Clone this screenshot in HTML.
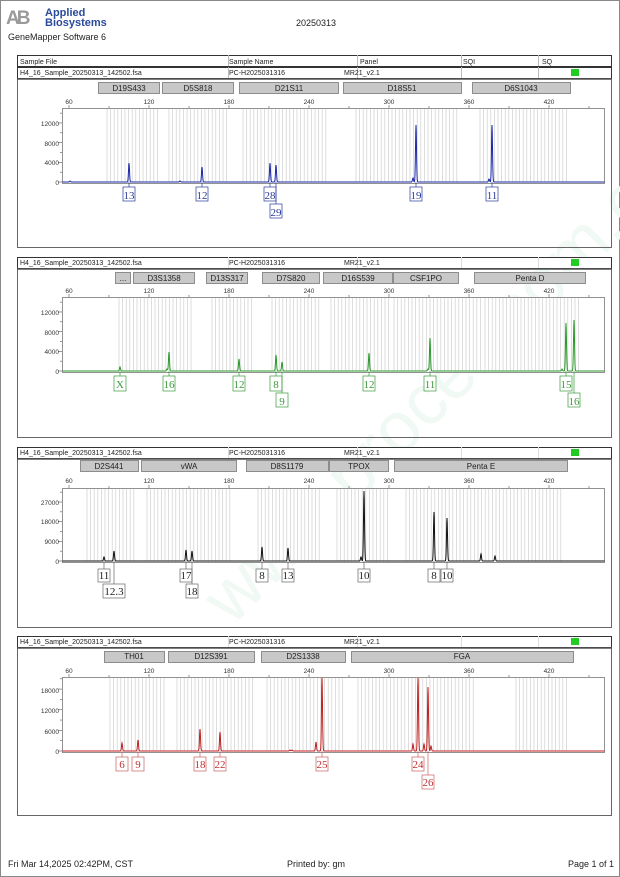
<!DOCTYPE html>
<html><head><meta charset="utf-8"><style>
html,body{margin:0;padding:0;background:#fff}
svg{display:block}
text{font-family:"Liberation Sans",sans-serif}
.h{font-size:7px;fill:#222}
.m{font-size:8px;fill:#222;text-anchor:middle}
.ax{font-size:6.5px;fill:#333;text-anchor:middle}
.ay{font-size:6.5px;fill:#333;text-anchor:end}
.lb text{font-family:"Liberation Serif",serif;font-size:11px;text-anchor:middle}
</style></head><body>
<svg id="s" width="620" height="877" viewBox="0 0 620 877" xmlns="http://www.w3.org/2000/svg">
<rect x="0.5" y="0.5" width="619" height="876" fill="#fff" stroke="#888"/>
<text x="130" y="520" transform="rotate(-45 310 450)" style="font-size:72px;fill:#f0f9f3;font-family:'Liberation Sans',sans-serif">www.procell.com.cn</text>
<!-- logo -->
<text x="6" y="24" style="font-size:19px;font-weight:bold;fill:#9a9a9a;letter-spacing:-3px">AB</text>
<text x="45" y="16" style="font-size:11px;font-weight:bold;fill:#2a4a9a">Applied</text>
<text x="45" y="26" style="font-size:11px;font-weight:bold;fill:#2a4a9a">Biosystems</text>
<text x="8" y="40" style="font-size:9px;fill:#222">GeneMapper Software 6</text>
<text x="316" y="26" style="font-size:9px;fill:#222;text-anchor:middle">20250313</text>
<g id="g"></g>
<text class="h" x="20" y="64">Sample File</text><text class="h" x="229" y="64">Sample Name</text><text class="h" x="360" y="64">Panel</text><text class="h" x="463" y="64">SQI</text><text class="h" x="542" y="64">SQ</text>
<text class="h" x="20" y="75">H4_16_Sample_20250313_142502.fsa</text><text class="h" x="229" y="75">PC-H2025031316</text><text class="h" x="344" y="75">MR21_v2.1</text>
<text class="h" x="20" y="265">H4_16_Sample_20250313_142502.fsa</text><text class="h" x="229" y="265">PC-H2025031316</text><text class="h" x="344" y="265">MR21_v2.1</text>
<text class="h" x="20" y="455">H4_16_Sample_20250313_142502.fsa</text><text class="h" x="229" y="455">PC-H2025031316</text><text class="h" x="344" y="455">MR21_v2.1</text>
<text class="h" x="20" y="644">H4_16_Sample_20250313_142502.fsa</text><text class="h" x="229" y="644">PC-H2025031316</text><text class="h" x="344" y="644">MR21_v2.1</text>
<text class="m" x="129" y="91">D19S433</text><text class="m" x="198" y="91">D5S818</text><text class="m" x="289" y="91">D21S11</text><text class="m" x="402" y="91">D18S51</text><text class="m" x="521" y="91">D6S1043</text>
<text class="m" x="123" y="281">...</text><text class="m" x="164" y="281">D3S1358</text><text class="m" x="227" y="281">D13S317</text><text class="m" x="291" y="281">D7S820</text><text class="m" x="358" y="281">D16S539</text><text class="m" x="426" y="281">CSF1PO</text><text class="m" x="530" y="281">Penta D</text>
<text class="m" x="109" y="469">D2S441</text><text class="m" x="189" y="469">vWA</text><text class="m" x="287" y="469">D8S1179</text><text class="m" x="359" y="469">TPOX</text><text class="m" x="481" y="469">Penta E</text>
<text class="m" x="134" y="659">TH01</text><text class="m" x="211" y="659">D12S391</text><text class="m" x="303" y="659">D2S1338</text><text class="m" x="462" y="659">FGA</text>
<g class="ax">
<text x="69" y="104">60</text><text x="149" y="104">120</text><text x="229" y="104">180</text><text x="309" y="104">240</text><text x="389" y="104">300</text><text x="469" y="104">360</text><text x="549" y="104">420</text>
<text x="69" y="293">60</text><text x="149" y="293">120</text><text x="229" y="293">180</text><text x="309" y="293">240</text><text x="389" y="293">300</text><text x="469" y="293">360</text><text x="549" y="293">420</text>
<text x="69" y="483">60</text><text x="149" y="483">120</text><text x="229" y="483">180</text><text x="309" y="483">240</text><text x="389" y="483">300</text><text x="469" y="483">360</text><text x="549" y="483">420</text>
<text x="69" y="673">60</text><text x="149" y="673">120</text><text x="229" y="673">180</text><text x="309" y="673">240</text><text x="389" y="673">300</text><text x="469" y="673">360</text><text x="549" y="673">420</text>
</g>
<g class="ay">
<text x="59" y="126">12000</text><text x="59" y="146">8000</text><text x="59" y="165">4000</text><text x="59" y="185">0</text>
<text x="59" y="315">12000</text><text x="59" y="335">8000</text><text x="59" y="354">4000</text><text x="59" y="374">0</text>
<text x="59" y="505">27000</text><text x="59" y="524">18000</text><text x="59" y="544">9000</text><text x="59" y="564">0</text>
<text x="59" y="693">18000</text><text x="59" y="713">12000</text><text x="59" y="734">6000</text><text x="59" y="754">0</text>
</g>
<g class="lb" fill="#2a3a9a"><text x="129" y="199">13</text><text x="202" y="199">12</text><text x="270" y="199">28</text><text x="276" y="216">29</text><text x="416" y="199">19</text><text x="492" y="199">11</text></g>
<g class="lb" fill="#3a9a3a"><text x="120" y="388">X</text><text x="169" y="388">16</text><text x="239" y="388">12</text><text x="276" y="388">8</text><text x="282" y="405">9</text><text x="369" y="388">12</text><text x="430" y="388">11</text><text x="566" y="388">15</text><text x="574" y="405">16</text></g>
<g class="lb" fill="#222"><text x="104" y="579">11</text><text x="114" y="595">12.3</text><text x="186" y="579">17</text><text x="192" y="595">18</text><text x="262" y="579">8</text><text x="288" y="579">13</text><text x="364" y="579">10</text><text x="434" y="579">8</text><text x="447" y="579">10</text></g>
<g class="lb" fill="#c03030"><text x="122" y="768">6</text><text x="138" y="768">9</text><text x="200" y="768">18</text><text x="220" y="768">22</text><text x="322" y="768">25</text><text x="418" y="768">24</text><text x="428" y="786">26</text></g>
<text x="8" y="867" style="font-size:9px;fill:#222">Fri Mar 14,2025 02:42PM, CST</text>
<text x="316" y="867" style="font-size:9px;fill:#222;text-anchor:middle">Printed by: gm</text>
<text x="614" y="867" style="font-size:9px;fill:#222;text-anchor:end">Page 1 of 1</text>
</svg>
<script>
var NS="http://www.w3.org/2000/svg",G=document.getElementById('g');
function el(t,a){var e=document.createElementNS(NS,t);for(var k in a)e.setAttribute(k,a[k]);G.appendChild(e);return e;}
var P=[
{box:[55,247],hdr:true,row:[67,78],mk:[82,93],plot:[108,183],col:"#1a28a8",lc:"#2a3a9a",
 markers:[[98,160],[162,234],[239,339],[343,462],[472,571]],
 bins:[[107,158],[169,229],[243,328],[356,458],[480,567]],
 peaks:[[129,19],[202,15],[270,19],[276,17],[416,57],[492,57],[413,4],[489,3],[70,1],[180,1]],
 labels:[[129,0],[202,0],[270,0],[276,1],[416,0],[492,0]]},
{box:[257,437],row:[257,268],mk:[272,283],plot:[297,372],col:"#2a9a2a",lc:"#3a9a3a",
 markers:[[115,131],[133,195],[206,248],[262,320],[323,393],[393,459],[474,586]],
 bins:[[119,192],[212,255],[272,321],[331,390],[394,481],[485,581]],
 peaks:[[120,4],[169,19],[239,12],[276,16],[282,9],[369,18],[430,33],[566,48],[574,51],[167,2],[428,2],[562,2]],
 labels:[[120,0],[169,0],[239,0],[276,0],[282,1],[369,0],[430,0],[566,0],[574,1]]},
{box:[447,627],row:[447,458],mk:[460,471],plot:[488,562],col:"#111",lc:"#666",
 markers:[[80,139],[141,237],[246,329],[329,389],[394,568]],
 bins:[[87,136],[147,230],[258,321],[337,390],[406,562]],
 peaks:[[104,4],[114,10],[186,11],[192,10],[262,14],[288,13],[364,70],[434,49],[447,43],[481,7],[495,5],[361,4]],
 labels:[[104,0],[114,1],[186,0],[192,1],[262,0],[288,0],[364,0],[434,0],[447,0]]},
{box:[636,815],row:[636,647],mk:[651,662],plot:[677,752],col:"#c02020",lc:"#c86060",
 markers:[[104,165],[168,255],[261,346],[351,574]],
 bins:[[110,164],[177,253],[267,344],[358,474],[516,567]],
 peaks:[[122,8],[138,11],[200,22],[220,19],[322,74],[316,9],[418,74],[428,64],[413,7],[424,7],[431,5],[290,1],[292,1]],
 labels:[[122,0],[138,0],[200,0],[220,0],[322,0],[418,0],[428,1]]}
];
var rowsY=[[187,201,204,218],[376,391,393,407],[569,582,584,598],[757,771,775,789]];
P.forEach(function(p,i){
 el('rect',{x:17.5,y:p.box[0]+.5,width:594,height:p.box[1]-p.box[0],fill:'none',stroke:'#666','stroke-width':1});
 if(p.hdr){el('rect',{x:17.5,y:55.5,width:594,height:11,fill:'#fff',stroke:'#333','stroke-width':1});}
 el('rect',{x:17.5,y:p.row[0]+.5,width:594,height:p.row[1]-p.row[0],fill:'#fff',stroke:'#333','stroke-width':1});
 el('line',{x1:17,x2:612,y1:p.row[1]+1,y2:p.row[1]+1,stroke:'#555','stroke-width':1.5});
 [228,357,461,538].forEach(function(x){el('line',{x1:x+.5,x2:x+.5,y1:p.row[0],y2:p.row[1],stroke:i==0?'#bbb':'#ddd'});});
 if(p.hdr)[228,357,461,538].forEach(function(x){el('line',{x1:x+.5,x2:x+.5,y1:55,y2:66,stroke:'#bbb'});});
 el('rect',{x:571,y:p.row[0]+2,width:8,height:7,fill:'#22cc22'});
 p.markers.forEach(function(m){el('rect',{x:m[0]+.5,y:p.mk[0]+.5,width:m[1]-m[0]-1,height:p.mk[1]-p.mk[0],fill:'#c8c8c8',stroke:'#777','stroke-width':.8});});
 var t=p.plot[0],b=p.plot[1];
 el('rect',{x:62.5,y:t+.5,width:542,height:b-t,fill:'#fff',stroke:'#777','stroke-width':.8});
 p.bins.forEach(function(r){for(var x=r[0];x<=r[1];x+=3.6){el('line',{x1:x.toFixed(1),x2:x.toFixed(1),y1:t+1,y2:b-1,stroke:'#cfcfcf','stroke-width':.7});}});
 for(var k=0;k<7;k++){var x=69+k*80;el('line',{x1:x,x2:x,y1:t-3,y2:t,stroke:'#555','stroke-width':.6});}
 for(var k=0;k<7;k++){var x=109+k*80;el('line',{x1:x,x2:x,y1:t-2,y2:t,stroke:'#555','stroke-width':.6});}
 var base=b-1;
 var ticks=i==2?[0,9000,18000,27000]:i==3?[0,6000,12000,18000]:[0,4000,8000,12000];
 var pp=i==2?2.185:i==3?3.44:4.92;
 for(var v=0;v<=ticks[3]*1.2;v+=ticks[1]/2){var y=base-v/1000*pp;if(y<t)break;el('line',{x1:(v%ticks[1]==0)?58:60,x2:62,y1:y,y2:y,stroke:'#555','stroke-width':.6});}
 var d="M62.5 "+base;
 for(var x=62.5;x<=604.5;x+=0.25){var h=0;p.peaks.forEach(function(q){var dx=x-q[0];h+=q[1]*Math.exp(-dx*dx/(2*0.5*0.5));});
  d+=" L"+x.toFixed(2)+" "+Math.max(t+1,base-h).toFixed(2);}
 el('path',{d:d,fill:'none',stroke:p.col,'stroke-width':1});
 var ry=rowsY[i];
 p.labels.forEach(function(l){
  var w=(i==2&&l[0]==114)?22:12;
  var y0=l[1]?ry[2]:ry[0],y1=l[1]?ry[3]:ry[1];
  el('line',{x1:l[0],x2:l[0],y1:base,y2:y0,stroke:p.lc,'stroke-width':.7});
  el('rect',{x:l[0]-w/2,y:y0,width:w,height:y1-y0,fill:'#fff',stroke:p.lc,'stroke-width':.7});
 });
});
</script>
</body></html>
